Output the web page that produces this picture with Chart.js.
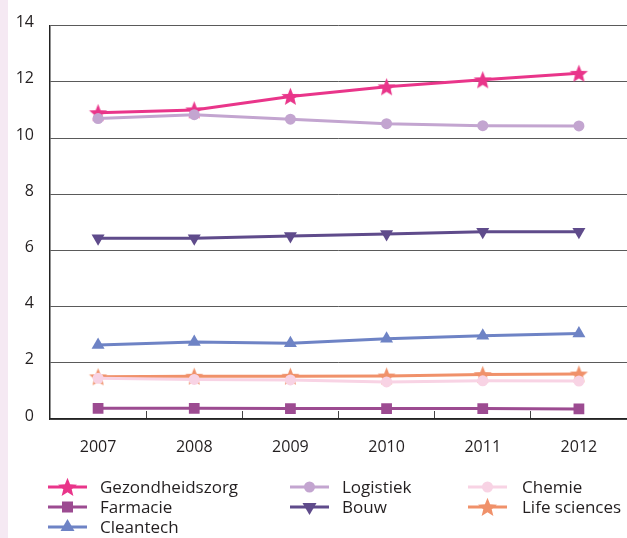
<!DOCTYPE html>
<html><head><meta charset="utf-8">
<script src="https://cdn.jsdelivr.net/npm/chart.js@4.4.1/dist/chart.umd.min.js"></script>
<style>
html,body{margin:0;padding:0;background:#fff;}
#wrap{position:relative;width:627px;height:538px;overflow:hidden;font-family:'Open Sans',sans-serif;}
#strip{position:absolute;left:0;top:0;width:8px;height:538px;background:#f5e9f3;}
#c{position:absolute;left:0;top:0;}
.sw{position:absolute;width:40px;height:20px;}
.tx{position:absolute;height:20px;line-height:20px;font-size:17px;color:#231f20;white-space:nowrap;}
</style></head>
<body>
<div id="wrap">
  <div id="strip"></div>
  <canvas id="c" width="627" height="538"></canvas>
  <div id="legend"></div>
</div>
<script>
// ---- data ----
const years = ['2007', '2008', '2009', '2010', '2011', '2012'];
const gezondheidszorg = [10.90, 11.00, 11.48, 11.82, 12.07, 12.30];
const logistiek       = [10.69, 10.83, 10.67, 10.51, 10.44, 10.43];
const bouw            = [6.43, 6.43, 6.51, 6.58, 6.66, 6.66];
const cleantech       = [2.63, 2.74, 2.70, 2.86, 2.96, 3.04];
const lifeSciences    = [1.50, 1.52, 1.52, 1.53, 1.58, 1.60];
const chemie          = [1.45, 1.41, 1.39, 1.32, 1.36, 1.35];
const farmacie        = [0.38, 0.38, 0.37, 0.37, 0.37, 0.36];
const yMin = 0, yMax = 14, yStep = 2;

// ---- styles ----
const C = {
  gez: '#e9358a', log: '#c3a5d0', bouw: '#5f4b8b', clean: '#6e83c5',
  life: '#f0916a', chem: '#f8d3e4', farm: '#9c4b91'
};

function starPath(ctx, cx, cy, R, r) {
  ctx.beginPath();
  for (let i = 0; i < 10; i++) {
    const rad = (i % 2 === 0) ? R : r;
    const a = -Math.PI / 2 + i * Math.PI / 5;
    const x = cx + rad * Math.cos(a), y = cy + rad * Math.sin(a);
    if (i === 0) ctx.moveTo(x, y); else ctx.lineTo(x, y);
  }
  ctx.closePath();
}
function makeStar(color, R, r) {
  const s = Math.ceil(2 * R + 2);
  const cv = document.createElement('canvas');
  cv.width = s; cv.height = s;
  const ctx = cv.getContext('2d');
  ctx.fillStyle = color;
  starPath(ctx, s / 2, s / 2 + 0.8, R, r);
  ctx.fill();
  return cv;
}
const starGez = makeStar(C.gez, 9.5, 4.2);
const starLife = makeStar(C.life, 9.5, 4.2);

function ds(label, data, color, pointStyle, radius, rotation, order) {
  return {
    label, data, borderColor: color, backgroundColor: color,
    pointBackgroundColor: color, pointBorderColor: color, pointBorderWidth: 0,
    borderWidth: 3, pointStyle, pointRadius: radius, pointHoverRadius: radius,
    pointRotation: rotation || 0, tension: 0, order
  };
}

const datasets = [
  ds('Logistiek', logistiek, C.log, 'circle', 5.5, 0, 0),
  ds('Gezondheidszorg', gezondheidszorg, C.gez, starGez, 9, 0, 1),
  ds('Bouw', bouw, C.bouw, 'triangle', 7.5, 180, 2),
  ds('Cleantech', cleantech, C.clean, 'triangle', 7.5, 0, 3),
  ds('Chemie', chemie, C.chem, 'circle', 5.5, 0, 4),
  ds('Life sciences', lifeSciences, C.life, starLife, 9, 0, 5),
  ds('Farmacie', farmacie, C.farm, 'rect', 7.6, 0, 6)
];

new Chart(document.getElementById('c'), {
  type: 'line',
  data: { labels: years, datasets },
  options: {
    responsive: false, animation: false, devicePixelRatio: 1,
    layout: { autoPadding: false, padding: { left: 0, top: 24, right: 0, bottom: 82 } },
    plugins: { legend: { display: false }, tooltip: { enabled: false } },
    scales: {
      x: {
        type: 'category', offset: true,
        afterFit: (s) => { s.height = 37; s.paddingLeft = 0; s.paddingRight = 0; },
        grid: { offset: true, drawOnChartArea: false, drawTicks: true, tickLength: -8, color: '#444', lineWidth: 1 },
        border: { display: true, color: '#222', width: 1.5 },
        ticks: { padding: 27, color: '#231f20', font: { family: "'Open Sans', sans-serif", size: 16 } }
      },
      y: {
        min: yMin, max: yMax,
        afterFit: (s) => { s.width = 50; },
        grid: { color: '#5a5a5a', lineWidth: 1, drawTicks: false },
        border: { display: true, color: '#222', width: 1.5 },
        ticks: { stepSize: yStep, padding: 16, labelOffset: -3, color: '#231f20', font: { family: "'Open Sans', sans-serif", size: 16 } }
      }
    }
  }
});

// ---- HTML legend ----
const legendItems = [
  { label: 'Gezondheidszorg', color: C.gez, marker: 'star', col: 0, row: 0 },
  { label: 'Farmacie', color: C.farm, marker: 'square', col: 0, row: 1 },
  { label: 'Cleantech', color: C.clean, marker: 'tri', col: 0, row: 2 },
  { label: 'Logistiek', color: C.log, marker: 'circle', col: 1, row: 0 },
  { label: 'Bouw', color: C.bouw, marker: 'tridown', col: 1, row: 1 },
  { label: 'Chemie', color: C.chem, marker: 'circle', col: 2, row: 0 },
  { label: 'Life sciences', color: C.life, marker: 'star', col: 2, row: 1 }
];
const colLine = [48, 290, 468];
const colText = [100, 342, 522];
const rowY = [487, 507, 527];
function markerSvg(m, c) {
  const cx = 19.5, cy = 10;
  if (m === 'star') {
    let pts = [];
    for (let i = 0; i < 10; i++) {
      const rad = (i % 2 === 0) ? 10 : 4.4;
      const a = -Math.PI / 2 + i * Math.PI / 5;
      pts.push((cx + rad * Math.cos(a)).toFixed(2) + ',' + (cy + 0.8 + rad * Math.sin(a)).toFixed(2));
    }
    return `<polygon points="${pts.join(' ')}" fill="${c}"/>`;
  }
  if (m === 'square') return `<rect x="${cx-5.5}" y="${cy-5.5}" width="11" height="11" fill="${c}"/>`;
  if (m === 'circle') return `<circle cx="${cx}" cy="${cy}" r="5.5" fill="${c}"/>`;
  if (m === 'tri') return `<polygon points="${cx},${cy-8} ${cx+7},${cy+4} ${cx-7},${cy+4}" fill="${c}"/>`;
  if (m === 'tridown') return `<polygon points="${cx},${cy+8} ${cx+7},${cy-4} ${cx-7},${cy-4}" fill="${c}"/>`;
  return '';
}
const lg = document.getElementById('legend');
legendItems.forEach(it => {
  const y = rowY[it.row];
  const sw = document.createElement('div');
  sw.className = 'sw';
  sw.style.left = colLine[it.col] + 'px';
  sw.style.top = (y - 10) + 'px';
  sw.innerHTML = `<svg width="40" height="20" xmlns="http://www.w3.org/2000/svg"><line x1="0" y1="10" x2="39" y2="10" stroke="${it.color}" stroke-width="3"/>${markerSvg(it.marker, it.color)}</svg>`;
  lg.appendChild(sw);
  const tx = document.createElement('div');
  tx.className = 'tx';
  tx.style.left = colText[it.col] + 'px';
  tx.style.top = (y - 10) + 'px';
  tx.textContent = it.label;
  lg.appendChild(tx);
});
</script>
</body></html>
